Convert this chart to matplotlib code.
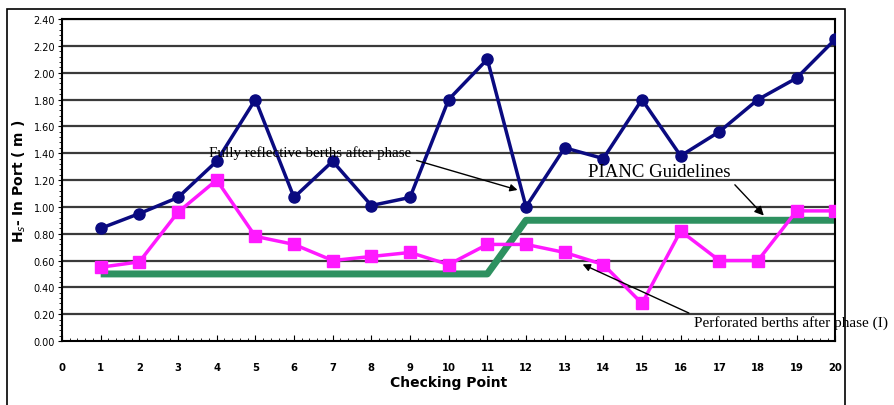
import numpy as np
import matplotlib.pyplot as plt
from matplotlib.patches import Rectangle
from matplotlib.ticker import MultipleLocator

# checking points
points = list(range(1, 21))

# wave height in port (m)
fully_reflective = [0.84, 0.95, 1.07, 1.34, 1.80, 1.07, 1.34, 1.01, 1.07, 1.80,
                    2.10, 1.00, 1.44, 1.36, 1.80, 1.38, 1.56, 1.80, 1.96, 2.25]
perforated = [0.55, 0.59, 0.96, 1.20, 0.78, 0.72, 0.60, 0.63, 0.66, 0.57,
              0.72, 0.72, 0.66, 0.57, 0.28, 0.82, 0.60, 0.60, 0.97, 0.97]
pianc = [0.50] * 11 + [0.90] * 9

x_ticks = list(range(0, 21))
y_ticks = [i * 0.2 for i in range(13)]

fig = plt.figure(figsize=(8.95, 4.06), dpi=100)
ax = fig.add_axes([0.0693, 0.1576, 0.864, 0.7931])

# outer frame around the whole chart
fig.patches.append(Rectangle((7 / 895, -0.01), 838 / 895, 0.985,
                             transform=fig.transFigure, fill=False,
                             edgecolor='black', linewidth=1.2))

for y in y_ticks[1:]:
    ax.axhline(y, color='#3a3a3a', linewidth=1.6, zorder=1)

ax.plot(points, pianc, color='#2e9160', linewidth=5, zorder=2, solid_capstyle='butt')
ax.plot(points, fully_reflective, color='#0a0a80', linewidth=2.5, marker='o',
        markersize=8, zorder=3)
ax.plot(points, perforated, color='#ff19ff', linewidth=2.5, marker='s',
        markersize=8, zorder=3)

ax.set_xlim(0, 20)
ax.set_ylim(0, 2.40)
ax.set_xticks(x_ticks)
ax.set_yticks(y_ticks)
ax.set_xticklabels([str(v) for v in x_ticks], fontsize=8, fontweight='bold',
                   fontstretch='condensed')
ax.set_yticklabels(['%.2f' % v for v in y_ticks], fontsize=7)
ax.xaxis.set_minor_locator(MultipleLocator(0.2))
ax.yaxis.set_minor_locator(MultipleLocator(0.04))
ax.tick_params(axis='x', which='major', direction='in', length=4, pad=15)
ax.tick_params(axis='x', which='minor', direction='in', length=2)
ax.tick_params(axis='y', which='major', direction='out', length=3, pad=2)
ax.tick_params(axis='y', which='minor', direction='out', length=2)
for s in ax.spines.values():
    s.set_linewidth(1.5)

ax.set_xlabel('Checking Point', fontsize=10, fontweight='bold', labelpad=2)
ax.set_ylabel(r'H$_{s}$- In Port ( m )', fontsize=10, fontweight='bold', labelpad=4)

ax.annotate('Fully reflective berths after phase', xy=(11.85, 1.12),
            xytext=(3.8, 1.38), fontsize=10.8, family='Liberation Serif',
            arrowprops=dict(arrowstyle='-|>', color='black', lw=1,
                            relpos=(1.0, 0.0)), zorder=5)
ax.annotate('PIANC Guidelines', xy=(18.2, 0.92), xytext=(13.6, 1.23),
            fontsize=13.5, family='Liberation Serif',
            arrowprops=dict(arrowstyle='-|>', color='black', lw=1,
                            relpos=(1.0, 0.0)), zorder=5)
ax.annotate('Perforated berths after phase (I)', xy=(13.4, 0.58),
            xytext=(16.35, 0.11), fontsize=11, family='Liberation Serif',
            annotation_clip=False,
            arrowprops=dict(arrowstyle='-|>', color='black', lw=1,
                            relpos=(0.0, 1.0)), zorder=5)

fig.savefig('out.png', dpi=100)
